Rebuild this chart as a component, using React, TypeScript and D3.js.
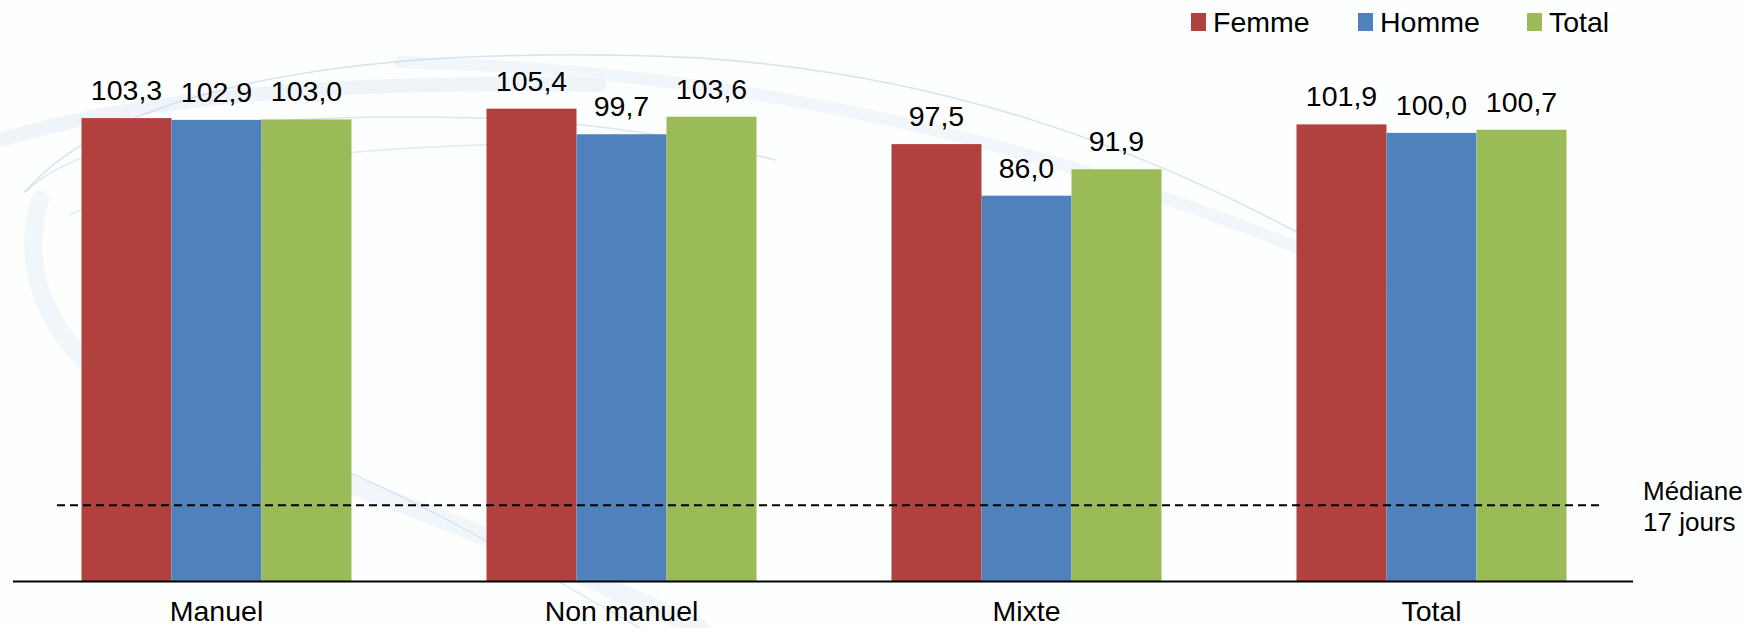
import React from "react";
import * as d3 from "d3";

const categories = ["Manuel", "Non manuel", "Mixte", "Total"];
const seriesNames = ["Femme", "Homme", "Total"];
const femme = [103.3, 105.4, 97.5, 101.9];
const homme = [102.9, 99.7, 86.0, 100.0];
const total = [103.0, 103.6, 91.9, 100.7];
const medianValue = 17;
const medianLabel = ["Médiane", "17 jours"];
const colors = ["#B0413E", "#4F81BD", "#9BBB59"];

const W = 1748;
const H = 628;
const FONT = "'Liberation Sans', Arial, Helvetica, sans-serif";

export default function App() {
  const seriesValues = [femme, homme, total];
  const x0 = d3
    .scaleBand<string>()
    .domain(categories)
    .range([14, 1634])
    .paddingInner(1 / 3)
    .paddingOuter(1 / 6);
  const x1 = d3
    .scaleBand<string>()
    .domain(seriesNames)
    .range([0, x0.bandwidth()])
    .padding(0);
  const y = d3.scaleLinear().domain([0, 120]).range([581.5, 581.5 - 120 * 4.486]);
  const fmt = (v: number) => d3.format(".1f")(v).replace(".", ",");
  const yMed = y(medianValue);

  const legendX = [1191, 1358, 1527];

  return (
    <div style={{ position: "fixed", left: 0, top: 0 }}>
      <svg width={W} height={H} viewBox={`0 0 ${W} ${H}`} style={{ display: "block" }}>
        <rect x={0} y={0} width={W} height={H} fill="#fdfefe" />
        {/* decorative background swoosh */}
        <g fill="none" strokeLinecap="round">
          <path d="M 0 140 C 150 95, 350 80, 600 85" stroke="#dfe9f2" strokeWidth={14} opacity={0.5} />
          <path d="M 400 62 C 800 72, 1100 160, 1400 290" stroke="#e6eef5" strokeWidth={12} opacity={0.5} />
          <path d="M 40 200 C 10 300, 80 400, 250 450 C 400 500, 550 560, 700 628" stroke="#e6eef6" strokeWidth={18} opacity={0.5} />
          <path d="M 25 192 C 130 70, 420 45, 700 58 C 950 75, 1150 150, 1330 250" stroke="#bdd2e4" strokeWidth={1.5} opacity={0.6} />
          <path d="M 25 192 C 90 130, 260 112, 480 118 C 600 122, 700 140, 775 160" stroke="#c3d7e7" strokeWidth={1.5} opacity={0.6} />
          <path d="M 70 215 C 180 160, 380 145, 560 143" stroke="#c8dae9" strokeWidth={1.5} opacity={0.5} />
          <path d="M 330 465 C 420 500, 520 560, 640 628" stroke="#c8dae9" strokeWidth={1.5} opacity={0.6} />
        </g>

        {/* bars */}
        {categories.map((c, i) => (
          <g key={c} transform={`translate(${x0(c)},0)`}>
            {seriesNames.map((s, j) => {
              const v = seriesValues[j][i];
              return (
                <rect
                  key={s}
                  x={x1(s)}
                  y={y(v)}
                  width={x1.bandwidth()}
                  height={y(0) - y(v)}
                  fill={colors[j]}
                />
              );
            })}
          </g>
        ))}

        {/* median dashed line */}
        <line x1={57} x2={1599} y1={yMed} y2={yMed} stroke="#000" strokeWidth={2} strokeDasharray="8,5" />
        <text x={1643} y={500} fontFamily={FONT} fontSize={26} fill="#000">{medianLabel[0]}</text>
        <text x={1643} y={531} fontFamily={FONT} fontSize={26} fill="#000">{medianLabel[1]}</text>

        {/* value labels */}
        {categories.map((c, i) => (
          <g key={c + "-lbl"}>
            {seriesNames.map((s, j) => {
              const v = seriesValues[j][i];
              return (
                <text
                  key={s}
                  x={(x0(c) as number) + (x1(s) as number) + x1.bandwidth() / 2}
                  y={y(v) - 18}
                  textAnchor="middle"
                  fontFamily={FONT}
                  fontSize={28.5}
                  fill="#000"
                >
                  {fmt(v)}
                </text>
              );
            })}
          </g>
        ))}

        {/* x axis */}
        <line x1={13} x2={1633} y1={y(0)} y2={y(0)} stroke="#000" strokeWidth={2} />
        {categories.map((c) => (
          <text
            key={c + "-cat"}
            x={(x0(c) as number) + x0.bandwidth() / 2}
            y={621}
            textAnchor="middle"
            fontFamily={FONT}
            fontSize={28.5}
            fill="#000"
          >
            {c}
          </text>
        ))}

        {/* legend */}
        {seriesNames.map((s, j) => (
          <g key={s + "-leg"}>
            <rect x={legendX[j]} y={13} width={15} height={18} fill={colors[j]} />
            <text x={legendX[j] + 22} y={32} fontFamily={FONT} fontSize={28.5} fill="#000">
              {s}
            </text>
          </g>
        ))}
      </svg>
    </div>
  );
}
